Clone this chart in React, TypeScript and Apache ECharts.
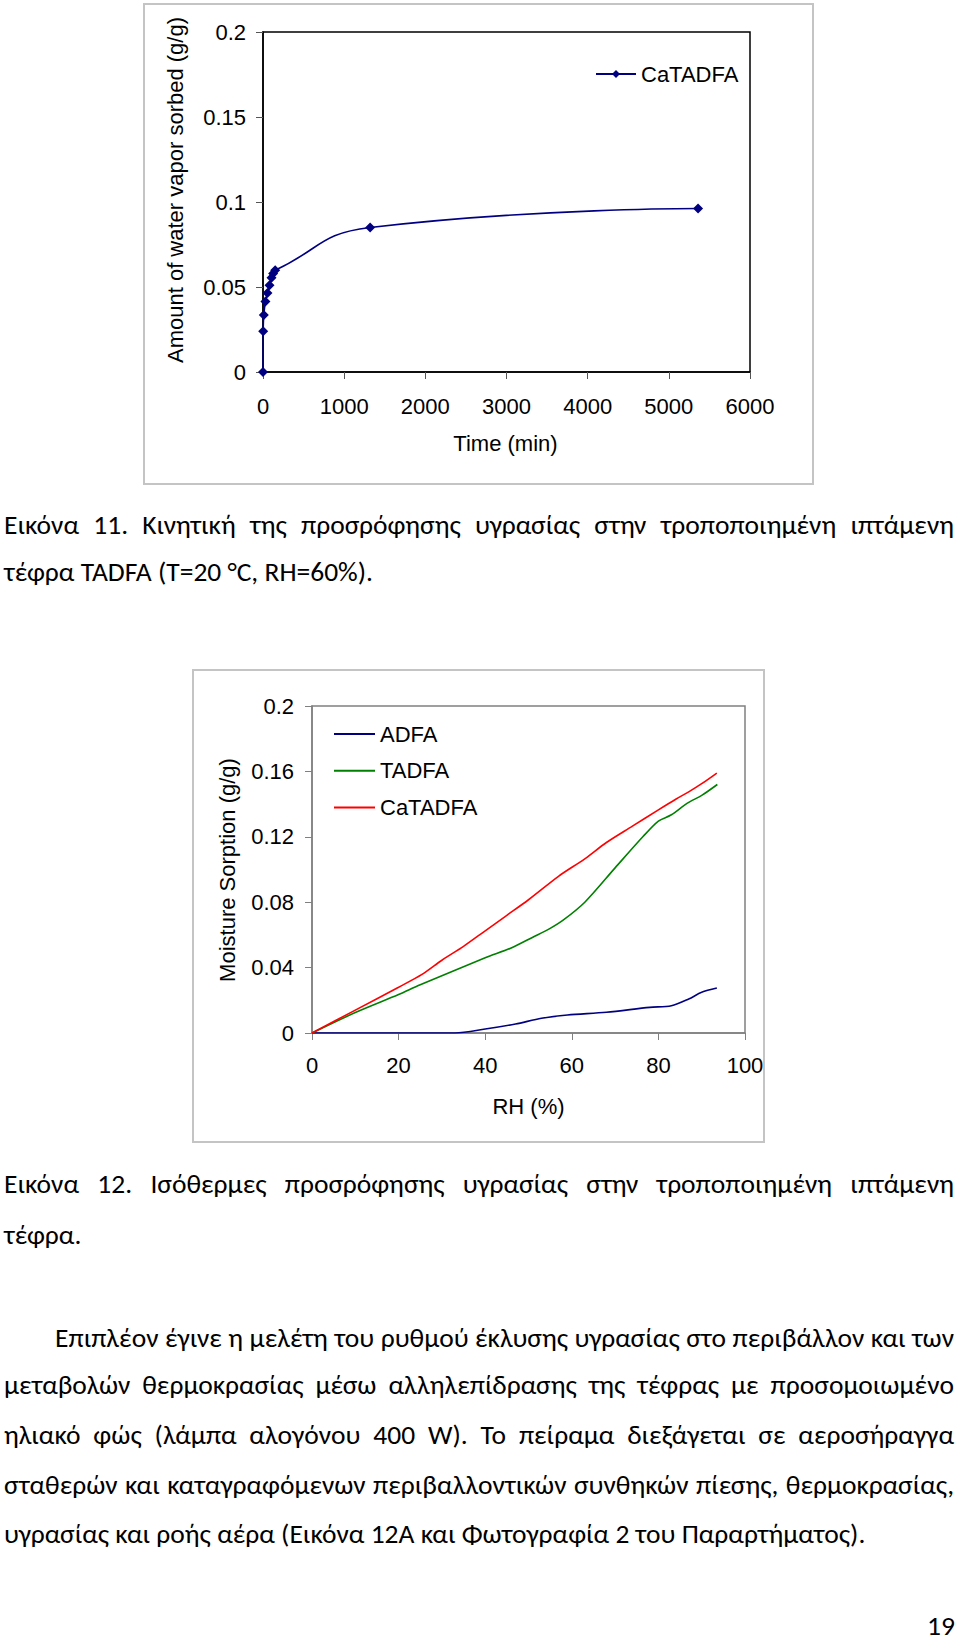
import React, { useEffect, useRef } from "react";
import * as echarts from "echarts";

// ---- Figure 11: sorption kinetics (CaTADFA) ----
const timeMin = [0, 2, 10, 30, 55, 80, 105, 125, 150, 1320, 5360];
const sorbed = [0, 0.024, 0.0335, 0.0414, 0.0465, 0.051, 0.0555, 0.058, 0.0598, 0.085, 0.0962];

// ---- Figure 12: sorption isotherms ----
const rhADFA = [0, 10, 20, 33, 40, 47, 53, 59, 68, 78, 83, 87, 90, 93.5];
const adfa = [0, 0, 0, 0, 0.0024, 0.0055, 0.009, 0.011, 0.0127, 0.0157, 0.0167, 0.0208, 0.0249, 0.0275];

const rhTADFA = [0, 10, 20, 25, 40, 46, 51, 55, 58, 63, 70, 76.4, 80, 82.9, 86.6, 90.1, 93.6];
const tadfa = [0, 0.0125, 0.0235, 0.0295, 0.046, 0.052, 0.0586, 0.064, 0.069, 0.08, 0.101, 0.12, 0.1296, 0.1333, 0.1404, 0.1455, 0.152];

const rhCaTADFA = [0, 10, 20, 25.5, 30, 35, 40, 45, 50, 57, 63, 68, 74, 80, 84, 87, 90, 93.5];
const catadfa = [0, 0.014, 0.028, 0.036, 0.0445, 0.053, 0.0625, 0.072, 0.0815, 0.096, 0.1065, 0.1165, 0.1265, 0.1365, 0.143, 0.1475, 0.1525, 0.159];

// ---- Texts ----
const caption11 = [
  "Εικόνα 11. Κινητική της προσρόφησης υγρασίας στην τροποποιημένη ιπτάμενη",
  "τέφρα TADFA (T=20 °C, RH=60%).",
];
const caption12 = [
  "Εικόνα 12. Ισόθερμες προσρόφησης υγρασίας στην τροποποιημένη ιπτάμενη",
  "τέφρα.",
];
const paragraph = [
  "Επιπλέον έγινε η μελέτη του ρυθμού έκλυσης υγρασίας στο περιβάλλον και των",
  "μεταβολών θερμοκρασίας μέσω αλληλεπίδρασης της τέφρας με προσομοιωμένο",
  "ηλιακό φώς (λάμπα αλογόνου 400 W). Το πείραμα διεξάγεται σε αεροσήραγγα",
  "σταθερών και καταγραφόμενων περιβαλλοντικών συνθηκών πίεσης, θερμοκρασίας,",
  "υγρασίας και ροής αέρα (Εικόνα 12Α και Φωτογραφία 2 του Παραρτήματος).",
];
const pageNumber = "19";

const CFONT = "'Liberation Sans', Arial, sans-serif";
const TFONT = "Carlito, 'Liberation Sans Narrow', Roboto, sans-serif";
const FS = 22;

function ChartBox(props: { option: any; style: React.CSSProperties }) {
  const ref = useRef<HTMLDivElement>(null);
  useEffect(() => {
    if (!ref.current) return;
    const chart = echarts.init(ref.current, null, { renderer: "svg" });
    chart.setOption(props.option);
    return () => chart.dispose();
  }, []);
  return <div ref={ref} style={{ position: "absolute", ...props.style }} />;
}

const plain = (v: number) => String(v);

const optionA = {
  animation: false,
  textStyle: { fontFamily: CFONT },
  graphic: [
    {
      type: "rect",
      z: -10,
      shape: { x: 4, y: 4, width: 669, height: 480 },
      style: { fill: "#fff", stroke: "#c4c4c4", lineWidth: 2 },
    },
    {
      type: "text",
      x: 35,
      y: 190,
      rotation: Math.PI / 2,
      style: {
        text: "Amount of water vapor sorbed (g/g)",
        font: `22px ${CFONT}`,
        fill: "#000",
        align: "center",
        verticalAlign: "middle",
      },
    },
    {
      type: "text",
      x: 365.5,
      y: 443,
      style: { text: "Time (min)", font: `22px ${CFONT}`, fill: "#000", align: "center", verticalAlign: "middle" },
    },
  ],
  grid: {
    left: 123,
    top: 32,
    width: 487,
    height: 340,
    show: true,
    borderColor: "#000",
    borderWidth: 1.5,
    backgroundColor: "transparent",
  },
  xAxis: {
    type: "value",
    min: 0,
    max: 6000,
    interval: 1000,
    axisLine: { show: true, onZero: false, lineStyle: { color: "#000", width: 1.5 } },
    axisTick: { show: true, inside: false, length: 7, lineStyle: { color: "#555" } },
    splitLine: { show: false },
    axisLabel: { color: "#000", fontSize: FS, margin: 23, fontFamily: CFONT, formatter: plain },
  },
  yAxis: {
    type: "value",
    min: 0,
    max: 0.2,
    interval: 0.05,
    axisLine: { show: true, onZero: false, lineStyle: { color: "#000", width: 1.5 } },
    axisTick: { show: true, inside: false, length: 7, lineStyle: { color: "#555" } },
    splitLine: { show: false },
    axisLabel: { color: "#000", fontSize: FS, margin: 17, fontFamily: CFONT },
  },
  legend: {
    left: 455,
    top: 63,
    padding: 0,
    itemWidth: 40,
    itemHeight: 10,
    textStyle: { fontSize: FS, color: "#000", fontFamily: CFONT },
    data: ["CaTADFA"],
  },
  series: [
    {
      type: "line",
      name: "CaTADFA",
      data: timeMin.map((t, i) => [t, sorbed[i]]),
      smooth: 0.5,
      symbol: "diamond",
      symbolSize: 10,
      lineStyle: { color: "#000080", width: 1.6 },
      itemStyle: { color: "#000080" },
    },
  ],
};

const optionB = {
  animation: false,
  textStyle: { fontFamily: CFONT },
  graphic: [
    {
      type: "rect",
      z: -10,
      shape: { x: 13, y: 10, width: 571, height: 472 },
      style: { fill: "#fff", stroke: "#c4c4c4", lineWidth: 2 },
    },
    {
      type: "text",
      x: 47,
      y: 210,
      rotation: Math.PI / 2,
      style: {
        text: "Moisture Sorption (g/g)",
        font: `22px ${CFONT}`,
        fill: "#000",
        align: "center",
        verticalAlign: "middle",
      },
    },
    {
      type: "text",
      x: 348.5,
      y: 446,
      style: { text: "RH (%)", font: `22px ${CFONT}`, fill: "#000", align: "center", verticalAlign: "middle" },
    },
  ],
  grid: {
    left: 132,
    top: 46,
    width: 433,
    height: 327,
    show: true,
    borderColor: "#808080",
    borderWidth: 1.5,
    backgroundColor: "transparent",
  },
  xAxis: {
    type: "value",
    min: 0,
    max: 100,
    interval: 20,
    axisLine: { show: true, onZero: false, lineStyle: { color: "#808080", width: 1.5 } },
    axisTick: { show: true, inside: false, length: 7, lineStyle: { color: "#808080" } },
    splitLine: { show: false },
    axisLabel: { color: "#000", fontSize: FS, margin: 21, fontFamily: CFONT, formatter: plain },
  },
  yAxis: {
    type: "value",
    min: 0,
    max: 0.2,
    interval: 0.04,
    axisLine: { show: true, onZero: false, lineStyle: { color: "#808080", width: 1.5 } },
    axisTick: { show: true, inside: false, length: 7, lineStyle: { color: "#808080" } },
    splitLine: { show: false },
    axisLabel: { color: "#000", fontSize: FS, margin: 18, fontFamily: CFONT },
  },
  legend: {
    left: 154,
    top: 63,
    padding: 0,
    orient: "vertical",
    icon: "rect",
    itemWidth: 41,
    itemHeight: 2,
    itemGap: 14.7,
    textStyle: { fontSize: FS, color: "#000", fontFamily: CFONT },
    data: ["ADFA", "TADFA", "CaTADFA"],
  },
  series: [
    {
      type: "line",
      name: "ADFA",
      data: rhADFA.map((x, i) => [x, adfa[i]]),
      smooth: 0.3,
      symbol: "none",
      lineStyle: { color: "#000080", width: 1.6 },
      itemStyle: { color: "#000080" },
    },
    {
      type: "line",
      name: "TADFA",
      data: rhTADFA.map((x, i) => [x, tadfa[i]]),
      smooth: 0.3,
      symbol: "none",
      lineStyle: { color: "#008000", width: 1.6 },
      itemStyle: { color: "#008000" },
    },
    {
      type: "line",
      name: "CaTADFA",
      data: rhCaTADFA.map((x, i) => [x, catadfa[i]]),
      smooth: 0.3,
      symbol: "none",
      lineStyle: { color: "#ff0000", width: 1.6 },
      itemStyle: { color: "#ff0000" },
    },
  ],
};

function Line(props: { text: string; center: number; left?: number; justify?: boolean }) {
  const lh = 34;
  const left = props.left ?? 4;
  return (
    <div
      style={{
        position: "absolute",
        left,
        top: props.center - lh / 2,
        width: 954 - left,
        height: lh,
        lineHeight: `${lh}px`,
        fontSize: 27.5,
        fontFamily: TFONT,
        color: "#000",
        whiteSpace: "nowrap",
        textAlign: props.justify ? "justify" : "left",
        textAlignLast: props.justify ? "justify" : "left",
      } as React.CSSProperties}
    >
      {props.text}
    </div>
  );
}

export default function App() {
  return (
    <div
      style={{
        position: "absolute",
        left: 0,
        top: 0,
        width: 960,
        height: 1643,
        background: "#fff",
        overflow: "hidden",
      }}
    >
      <ChartBox option={optionA} style={{ left: 140, top: 0, width: 680, height: 490 }} />
      <ChartBox option={optionB} style={{ left: 180, top: 660, width: 600, height: 490 }} />
      <Line text={caption11[0]} center={525} justify />
      <Line text={caption11[1]} center={572} />
      <Line text={caption12[0]} center={1184} justify />
      <Line text={caption12[1]} center={1235} />
      <Line text={paragraph[0]} center={1338} left={55} justify />
      <Line text={paragraph[1]} center={1385} justify />
      <Line text={paragraph[2]} center={1435} justify />
      <Line text={paragraph[3]} center={1485} justify />
      <Line text={paragraph[4]} center={1534} />
      <div
        style={{
          position: "absolute",
          right: 5,
          top: 1609,
          lineHeight: "normal",
          fontSize: 27.5,
          fontFamily: TFONT,
          color: "#000",
        }}
      >
        {pageNumber}
      </div>
    </div>
  );
}
